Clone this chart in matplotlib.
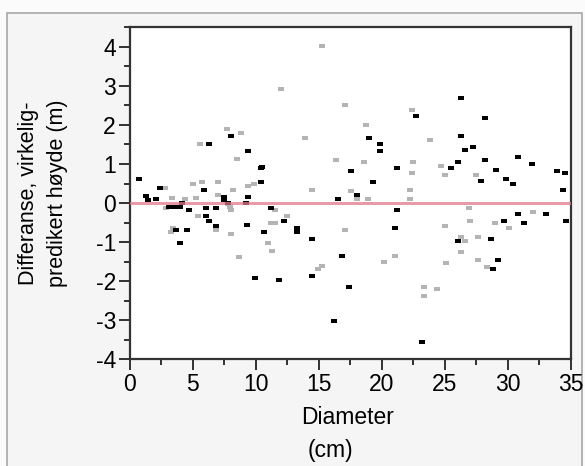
import matplotlib
matplotlib.use("Agg")
import matplotlib.pyplot as plt
from matplotlib.path import Path
from matplotlib.patches import Rectangle
from matplotlib.ticker import MultipleLocator

plt.rcParams['font.family'] = ['Liberation Sans', 'DejaVu Sans']
plt.rcParams['axes.unicode_minus'] = False

# black points (diameter cm, difference m)
black_x = [0.73, 1.3, 1.4, 2.05, 2.37, 3.08, 3.51, 3.98, 4.1, 4.67, 3.69, 4.56, 3.96,
           5.86, 6.29, 6.02, 6.02, 6.29, 6.87, 6.87, 7.48, 7.5, 7.8, 8.06, 9.38, 9.38,
           9.2, 9.33, 9.91, 10.39, 10.4, 10.5, 10.65, 11.23, 11.8, 12.26, 13.29, 13.29,
           14.49, 14.49, 16.5, 16.23, 16.82, 17.4, 17.56, 18.0, 19.01, 19.28, 19.88,
           19.88, 21.21, 21.21, 21.05, 22.69, 23.21, 25.47, 26.02, 26.02, 26.31, 26.31,
           26.63, 27.21, 27.9, 28.21, 28.21, 28.64, 28.8, 29.09, 29.22, 29.67, 29.83,
           30.39, 30.83, 30.83, 31.26, 31.87, 33.03, 33.9, 34.36, 34.5, 34.62]
black_y = [0.62, 0.19, 0.07, 0.11, 0.38, -0.11, -0.09, -0.11, 0.0, -0.17, -0.69, -0.69, -1.03,
           0.34, 1.52, -0.13, -0.32, -0.45, -0.13, -0.6, 0.15, 0.07, 0.0, 1.71, 1.33, 0.15,
           0.0, -0.56, -1.92, 0.54, 0.9, 0.93, -0.74, -0.13, -1.97, -0.45, -0.64, -0.74,
           -0.92, -1.86, 0.1, -3.01, -1.35, -2.15, 0.81, 0.2, 1.67, 0.53, 1.52,
           1.33, 0.91, -0.17, -0.64, 2.22, -3.56, 0.91, 1.05, -0.97, 2.7, 1.71,
           1.37, 1.43, 0.57, 2.18, 1.09, -0.92, -1.68, 0.85, -1.45, -0.45, 0.62,
           0.48, 1.19, -0.27, -0.51, 1.0, -0.27, 0.81, 0.34, 0.77, -0.45]

# grey points
grey_x = [2.77, 3.37, 2.9, 3.43, 3.3, 4.4, 5.02, 5.28, 5.41, 5.55, 5.73, 6.87, 7.0, 7.0,
          7.74, 7.8, 7.94, 8.06, 8.06, 8.19, 8.48, 8.64, 8.8, 9.38, 9.83, 10.97, 11.29,
          11.23, 11.5, 11.5, 12.0, 12.45, 13.9, 14.49, 14.91, 15.23, 15.23, 16.37, 17.08,
          17.08, 17.56, 18.0, 18.56, 18.72, 18.88, 20.15, 21.05, 22.24, 22.24, 22.37,
          22.37, 22.5, 23.35, 23.35, 23.85, 24.4, 24.72, 24.99, 24.99, 25.12, 26.31,
          26.31, 26.58, 26.9, 27.02, 27.48, 27.63, 27.63, 28.35, 28.96, 30.12, 32.0]
grey_y = [0.38, 0.14, -0.13, -0.64, -0.73, 0.1, 0.48, 0.14, -0.32, 1.52, 0.53, -0.69, 0.53, 0.2,
          1.9, -0.02, -0.1, -0.17, -0.79, 0.34, 1.14, -1.39, 1.79, 0.43, 0.48, -1.03, -1.22,
          -0.51, -0.51, -0.17, 2.93, -0.32, 1.67, 0.34, -1.68, -1.6, 4.02, 1.09, 2.5,
          -0.69, 0.3, 0.1, 1.05, 1.99, 0.1, -1.5, -1.35, 0.34, 0.1, 2.37,
          0.77, 1.05, -2.15, -2.39, 1.62, -2.2, 0.96, 0.72, -0.6, -1.54, -0.88,
          -1.26, -0.97, -0.13, -0.45, 0.72, -0.88, -1.45, -1.63, -0.51, -0.64, -0.22]

rect = Path([(-0.65, -0.5), (0.65, -0.5), (0.65, 0.5), (-0.65, 0.5), (-0.65, -0.5)],
            [Path.MOVETO, Path.LINETO, Path.LINETO, Path.LINETO, Path.CLOSEPOLY])

fig = plt.figure(figsize=(5.85, 4.66), dpi=100, facecolor='#fbfbfb')
fig.patches.append(Rectangle((7 / 585, -0.01), 575 / 585, 1 - 13 / 466 + 0.01,
                             transform=fig.transFigure, facecolor='#f5f5f5',
                             edgecolor='#a8a8a8', linewidth=1.2, zorder=-5))
ax = fig.add_axes([0.222, 0.229, 0.754, 0.7124], zorder=2)
ax.set_facecolor('white')

ax.scatter(grey_x, grey_y, marker=rect, s=15, color='#b4b4b4', linewidths=0, zorder=2)
ax.scatter(black_x, black_y, marker=rect, s=21, color='black', linewidths=0, zorder=3)
ax.axhline(0, color='#e07a88', lw=2.2, alpha=0.75, zorder=4)

ax.set_xlim(0, 35)
ax.set_ylim(-4, 4.5)
ax.xaxis.set_major_locator(MultipleLocator(5))
ax.xaxis.set_minor_locator(MultipleLocator(2.5))
ax.yaxis.set_major_locator(MultipleLocator(1))
ax.yaxis.set_minor_locator(MultipleLocator(0.5))
ax.tick_params(which='major', length=8, width=1.3, labelsize=16.5, pad=2, color='#222222')
ax.tick_params(which='minor', length=4, width=1.3, color='#222222')
for s in ax.spines.values():
    s.set_linewidth(1.6)
    s.set_color('#333333')

fig.text(43 / 585, 1 - 193 / 466, 'Differanse, virkelig-\npredikert høyde (m)',
         rotation=90, ha='center', va='center', fontsize=15.5, linespacing=1.45)
fig.text(348 / 585, 1 - 417 / 466, 'Diameter', ha='center', va='center', fontsize=16.5)
fig.text(330 / 585, 1 - 450 / 466, '(cm)', ha='center', va='center', fontsize=16.5)

fig.savefig('out.png', dpi=100, facecolor=fig.get_facecolor())
